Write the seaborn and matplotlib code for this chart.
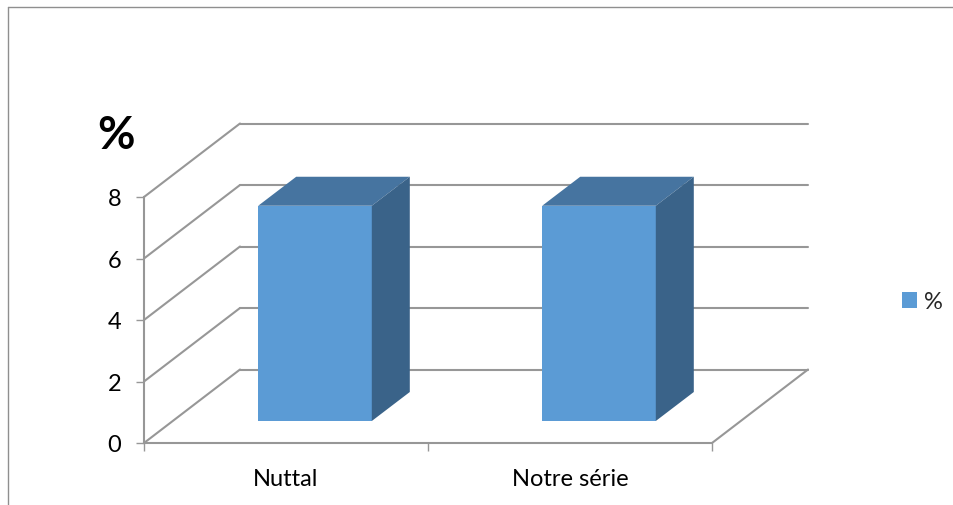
# Barres "3D" façon Excel : Nuttal / Notre série
import seaborn as sns
import matplotlib.pyplot as plt
from matplotlib.lines import Line2D
from matplotlib.patches import Patch, Polygon
from matplotlib.transforms import Affine2D

categories = ["Nuttal", "Notre série"]
values = [7, 7]
y_ticks = [0, 2, 4, 6, 8]
series_name = "%"

FRONT = "#5B9BD5"
TOP = "#4674A0"
SIDE = "#3A6389"
GRID = "#979797"
W, H = 954, 506

sns.set_theme(style="white")
plt.rcParams["font.family"] = ["Lato", "DejaVu Sans"]

fig = plt.figure(figsize=(W / 100, H / 100), dpi=100)
ax = fig.add_axes([144 / W, (H - 444) / H, 568 / W, 246 / H])

sns.barplot(x=categories, y=values, width=0.4, color=FRONT, saturation=1,
            zorder=3, ax=ax)
ax.set_xlim(-0.5, 1.5)
ax.set_ylim(0, 8)

# décalages en pixels : fond du graphe et face avant des barres
back = ax.transData + Affine2D().translate(96, 73.5)
bar_shift = ax.transData + Affine2D().translate(29, 22)
bar_depth = (38, 29)

# grille du fond et lignes obliques
for t in y_ticks:
    ax.plot([-0.5, 1.5], [t, t], color=GRID, lw=1.5, transform=back,
            clip_on=False, zorder=1)
    p0 = ax.transData.transform((-0.5, t))
    ax.add_artist(Line2D([p0[0], p0[0] + 96], [p0[1], p0[1] + 73.5], color=GRID,
                         lw=1.5, transform=None, zorder=1, clip_on=False))
p1 = ax.transData.transform((1.5, 0))
ax.add_artist(Line2D([p1[0], p1[0] + 96], [p1[1], p1[1] + 73.5], color=GRID,
                     lw=1.5, transform=None, zorder=1, clip_on=False))

# face avant, dessus et côté de chaque barre
for bar in list(ax.patches):
    bar.set_transform(bar_shift)
    bar.set_clip_on(False)
    bar.set_edgecolor("none")
    x0, x1 = bar.get_x(), bar.get_x() + bar.get_width()
    y1 = bar.get_height()
    a = bar_shift.transform((x0, y1))
    b = bar_shift.transform((x1, y1))
    c = bar_shift.transform((x1, 0))
    dx, dy = bar_depth
    ax.add_patch(Polygon([a, b, (b[0] + dx, b[1] + dy), (a[0] + dx, a[1] + dy)],
                         closed=True, fc=TOP, ec="none", transform=None,
                         zorder=3, clip_on=False))
    ax.add_patch(Polygon([c, b, (b[0] + dx, b[1] + dy), (c[0] + dx, c[1] + dy)],
                         closed=True, fc=SIDE, ec="none", transform=None,
                         zorder=3, clip_on=False))

# axes
sns.despine(ax=ax, top=True, right=True)
for side in ["left", "bottom"]:
    ax.spines[side].set_color(GRID)
    ax.spines[side].set_linewidth(1.5)
ax.set_yticks(y_ticks)
ax.set_xticks([0, 1])
ax.set_xticklabels(categories)
ax.set_xticks([-0.5, 0.5, 1.5], minor=True)
ax.tick_params(axis="x", which="major", length=0, pad=18, labelsize=17,
               colors="black")
ax.tick_params(axis="x", which="minor", length=5.5, width=1, color=GRID,
               bottom=True)
ax.tick_params(axis="y", length=5.5, width=1, color=GRID, pad=11, labelsize=17,
               labelcolor="black", left=True)
ax.set_xlabel("")
ax.set_ylabel("")

fig.text(116 / W, 1 - 136 / H, series_name, fontsize=33, fontweight="bold",
         ha="center", va="center", color="black")

# légende
ax.legend(handles=[Patch(fc=FRONT, ec="none", label=series_name)], frameon=False,
          loc="center left", bbox_to_anchor=(902 / W, 1 - 302.5 / H),
          bbox_transform=fig.transFigure, fontsize=17, handlelength=0.64,
          handleheight=0.64, handletextpad=0.3, borderpad=0, borderaxespad=0)

# cadre du graphique (bords haut et gauche visibles)
fig.add_artist(Line2D([8 / W, 8 / W], [0, 1 - 8 / H], color="#8f8f8f", lw=1))
fig.add_artist(Line2D([8 / W, 1], [1 - 8 / H, 1 - 8 / H], color="#8f8f8f", lw=1))

fig.savefig("out.png", dpi=100)
